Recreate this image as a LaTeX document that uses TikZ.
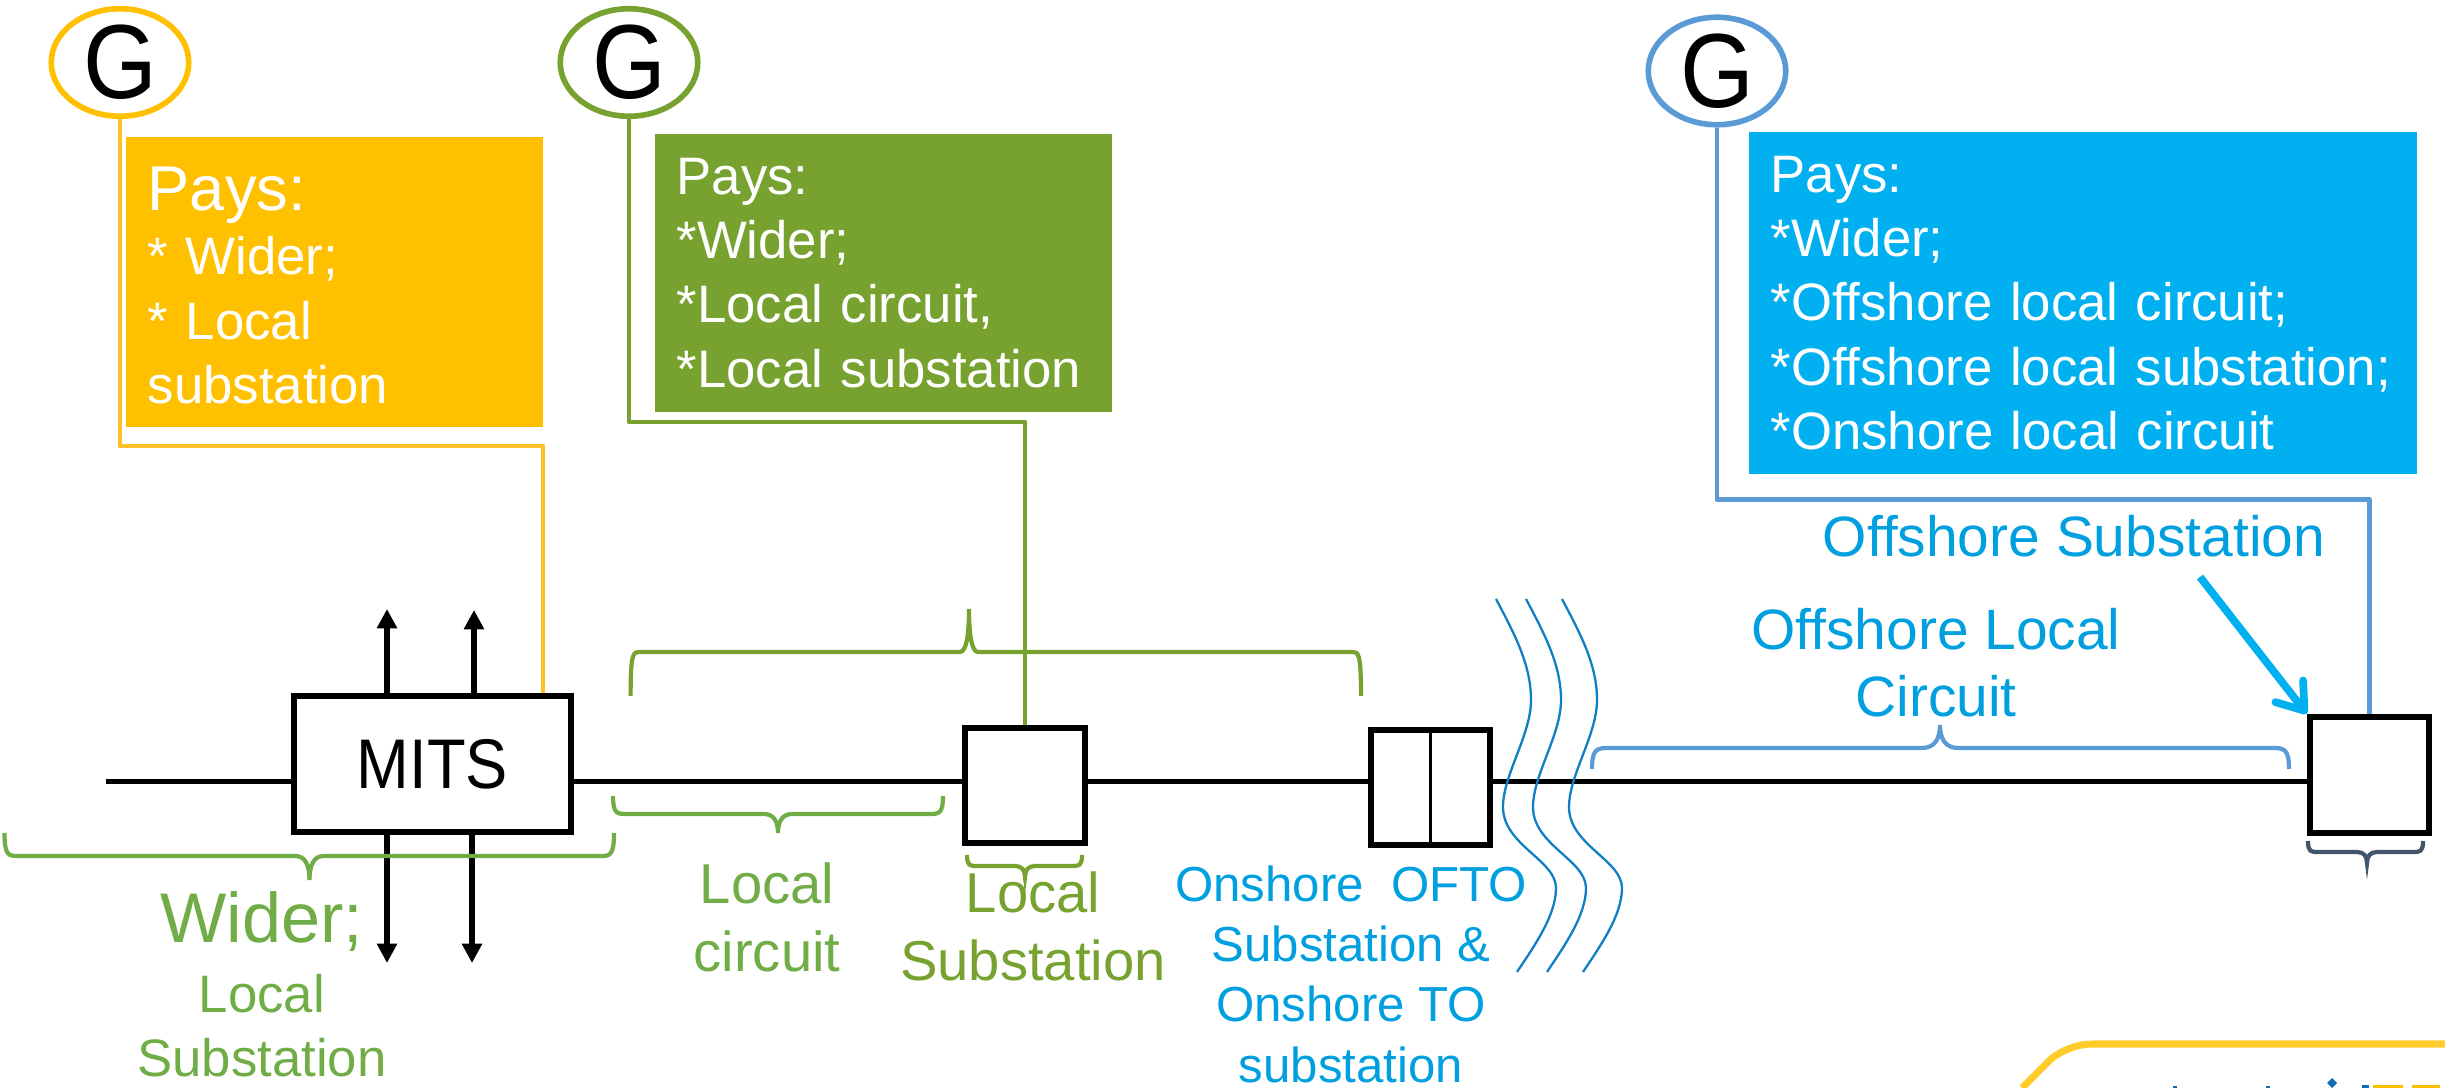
\documentclass[tikz,border=0pt]{standalone}
\usepackage{fontspec}
\setmainfont{Liberation Sans}
\newfontfamily\slimfont[FakeStretch=0.9]{Liberation Sans}
\usetikzlibrary{arrows.meta,shapes.geometric}
\definecolor{genyellow}{HTML}{FFC000}
\definecolor{linkyellow}{HTML}{FFBF28}
\definecolor{logoyellow}{HTML}{FFCC29}
\definecolor{boxgreen}{HTML}{78A22F}
\definecolor{bracegreen}{HTML}{70AD47}
\definecolor{linkblue}{HTML}{5B9BD5}
\definecolor{boxblue}{HTML}{00B0F0}
\definecolor{textblue}{HTML}{009FDF}
\definecolor{waveblue}{HTML}{0F7FC4}
\definecolor{logoblue}{HTML}{0F6DB5}
\definecolor{slate}{HTML}{44546A}
\newcommand{\fs}[2]{\fontsize{#1}{#2}\selectfont}
\tikzset{
  gen/.style={ellipse,draw=#1,line width=1.6pt,minimum width=1.375cm,minimum height=1.075cm,inner sep=0pt,font=\slimfont\fs{30}{32}},
  paybox/.style={rectangle,fill=#1,text=white,anchor=north west,inner xsep=0.22cm,inner ysep=0pt,align=left},
  station/.style={rectangle,draw=black,line width=1.7pt,inner sep=0pt},
  busline/.style={line width=1.5pt,black},
  flow/.style={line width=1.45pt,black,-{Triangle[length=5.5pt,width=5.5pt]}},
  link/.style={line width=1.4pt,line join=round,draw=#1},
  caption/.style={anchor=base,align=center,text=#1}
}
\begin{document}
\begin{tikzpicture}[x=0.1mm,y=-0.1mm]
\useasboundingbox (0,0) rectangle (2445,1088);
\node[gen=genyellow] (gena) at (120,62.5) {G};
\node[gen=boxgreen] (genb) at (629,62.5) {G};
\node[gen=linkblue] (genc) at (1717,71) {G};
\node[paybox=genyellow,text width=3.73cm,minimum height=2.9cm,font=\fs{15}{18.3}] (paya) at (125,136) {{\fs{18}{18.3}\rule{0pt}{14.6pt}Pays:}\\{}* Wider;\\{}* Local\\substation};
\node[paybox=boxgreen,text width=4.13cm,minimum height=2.78cm,font=\fs{15}{18.3}] (payb) at (654,133) {Pays:\\{}*Wider;\\{}*Local circuit,\\{}*Local substation};
\node[paybox=boxblue,text width=6.24cm,minimum height=3.425cm,font=\fs{15}{18.3}] (payc) at (1748,131) {Pays:\\{}*Wider;\\{}*Offshore local circuit;\\{}*Offshore local substation;\\{}*Onshore local circuit};
\node[station,minimum width=2.775cm,minimum height=1.365cm,font=\slimfont\fs{20}{22}] (mits) at (432.5,764) {MITS};
\node[station,minimum width=1.205cm,minimum height=1.155cm] (subbox) at (1025,785.5) {};
\node[station,minimum width=1.195cm,minimum height=1.155cm] (oftobox) at (1430.5,787.5) {};
\node[station,minimum width=1.195cm,minimum height=1.165cm] (offbox) at (2369.5,775) {};
\draw[line width=0.6pt] (oftobox.north) -- (oftobox.south);
\coordinate (feed) at (106,781.5);
\coordinate (upa) at (387,609);
\coordinate (upb) at (474,610);
\coordinate (downa) at (387,963);
\coordinate (downb) at (472,963);
\coordinate (kinka) at (543,446);
\coordinate (kinkb) at (1025,422);
\coordinate (kinkc) at (2369.5,499.5);
\coordinate (subtail) at (2200,577);
\draw[busline] (feed) -- (feed -| mits.west);
\draw[busline] (feed -| mits.east) -- (feed -| subbox.west);
\draw[busline] (feed -| subbox.east) -- (feed -| oftobox.west);
\draw[busline] (feed -| oftobox.east) -- (feed -| offbox.west);
\draw[flow] (upa |- mits.north) -- (upa);
\draw[flow] (upb |- mits.north) -- (upb);
\draw[flow] (downa |- mits.south) -- (downa);
\draw[flow] (downb |- mits.south) -- (downb);
\draw[link=linkyellow] (gena.south) |- (kinka) -- (kinka |- mits.north);
\draw[link=boxgreen] (genb.south) |- (kinkb) -- (kinkb |- subbox.north);
\draw[link=linkblue] (genc.south) |- (kinkc) -- (kinkc |- offbox.north);
\draw[boxblue,line width=2.2pt,-{Straight Barb[round,length=7pt,width=10pt]}] (subtail) -- (offbox.north west);
\foreach \xa/\xb/\xm/\ya/\yb/\yc/\rad/\col in {
  4.5/614/309.5/833/856/880/14/bracegreen,
  613/943/778/796/814/833/14/bracegreen,
  630.6/1361/969/696/652/609/9/boxgreen,
  967/1082/1025/855/866/877/10/boxgreen,
  1592/2289/1940/769/748/725/18/linkblue,
  2308/2423/2367/841/852/863/10/slate}{
  \pgfmathsetmacro{\ym}{\yb+0.4*(\yc-\yb)}
  \draw[\col,line width=1.2pt] (\xa,\ya) .. controls (\xa,\yb) and (\xa+0.3*\rad,\yb) .. (\xa+\rad,\yb) -- (\xm-\rad,\yb)
    .. controls (\xm-0.3*\rad,\yb) and (\xm,\ym) .. (\xm,\yc)
    .. controls (\xm,\ym) and (\xm+0.3*\rad,\yb) .. (\xm+\rad,\yb) -- (\xb-\rad,\yb)
    .. controls (\xb-0.3*\rad,\yb) and (\xb,\yb) .. (\xb,\ya);
}
\foreach \dx in {0,30,66}{
  \draw[waveblue,line width=0.65pt] (1496+\dx,599) .. controls (1515+\dx,635) and (1531+\dx,665) .. (1531+\dx,700)
    .. controls (1531+\dx,735) and (1503+\dx,775) .. (1503+\dx,807)
    .. controls (1503+\dx,845) and (1556+\dx,860) .. (1556+\dx,888)
    .. controls (1556+\dx,915) and (1535+\dx,945) .. (1517+\dx,972);
}
\node[caption=textblue,font=\fs{16.2}{19.3}] (offsub) at (2074,557) {Offshore Substation};
\node[caption=textblue,font=\fs{16.2}{19.3}] (offlocal) at (1936,717) {Offshore Local\\Circuit};
\node[caption=bracegreen,font=\fs{20}{22}] (wider) at (262,943) {Wider;};
\node[caption=bracegreen,font=\fs{15}{18.2}] (widersub) at (262,1076) {Local\\Substation};
\node[caption=bracegreen,font=\fs{16}{19.5}] (localcct) at (767,972) {Local\\circuit};
\node[caption=boxgreen,font=\fs{16}{19.5}] (localsub) at (1033,981) {Local\\Substation};
\node[caption=textblue,font=\fs{14}{17.1}] (onshore) at (1351,1082) {Onshore\ \ OFTO\\Substation \&\\Onshore TO\\substation};
\draw[logoyellow,line width=2pt] (2022,1088) -- (2052,1058) .. controls (2066,1048) and (2080,1044) .. (2093,1044) -- (2445,1044);
\fill[logoblue] (2332,1078) -- (2337,1083) -- (2332,1088) -- (2327,1083) -- cycle;
\fill[logoblue] (2362,1085) rectangle (2369,1088);
\fill[logoblue] (2173,1086) rectangle (2177,1088);
\fill[logoblue] (2266,1086) rectangle (2270,1088);
\fill[genyellow] (2373,1085) rectangle (2403,1088);
\fill[genyellow] (2412,1085) rectangle (2440,1088);
\end{tikzpicture}
\end{document}
